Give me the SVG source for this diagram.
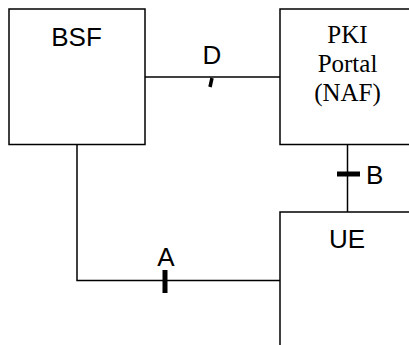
<svg xmlns="http://www.w3.org/2000/svg" width="409" height="345" viewBox="0 0 409 345">
<style>
.box{fill:#fff;stroke:#000;stroke-width:1.5}
.ln{fill:none;stroke:#000;stroke-width:1.5}
.tick{stroke:#000;stroke-width:5;fill:none}
.sans{font-family:"Liberation Sans",Arial,sans-serif;font-size:26px;fill:#000}
.serif{font-family:"Liberation Serif","Times New Roman",serif;font-size:25px;fill:#000}
</style>
<rect width="409" height="345" fill="#fff"/>
<g id="connectors">
<path class="ln" d="M145 77 H280"/>
<path class="ln" d="M347.5 144.5 V212"/>
<path class="ln" d="M77 144.5 V280.5 H280"/>
<path d="M212 78 L210 87" stroke="#000" stroke-width="3.5"/>
<path class="tick" d="M337 174 H360"/>
<path class="tick" d="M165 270 V293"/>
<text class="sans" x="212" y="64" text-anchor="middle">D</text>
<text class="sans" x="366" y="184">B</text>
<text class="sans" x="166" y="266" text-anchor="middle">A</text>
</g>
<g id="bsf">
<rect class="box" x="9" y="9" width="136" height="135.5"/>
<text class="sans" x="76.5" y="46" text-anchor="middle">BSF</text>
</g>
<g id="pki">
<rect class="box" x="280" y="9" width="140" height="135.5"/>
<text class="serif" x="347.5" y="42.5" text-anchor="middle">PKI</text>
<text class="serif" x="347.5" y="71.5" text-anchor="middle">Portal</text>
<text class="serif" x="347.5" y="100.5" text-anchor="middle">(NAF)</text>
</g>
<g id="ue">
<rect class="box" x="280" y="212" width="140" height="150"/>
<text class="sans" x="347" y="248" text-anchor="middle">UE</text>
</g>
</svg>
